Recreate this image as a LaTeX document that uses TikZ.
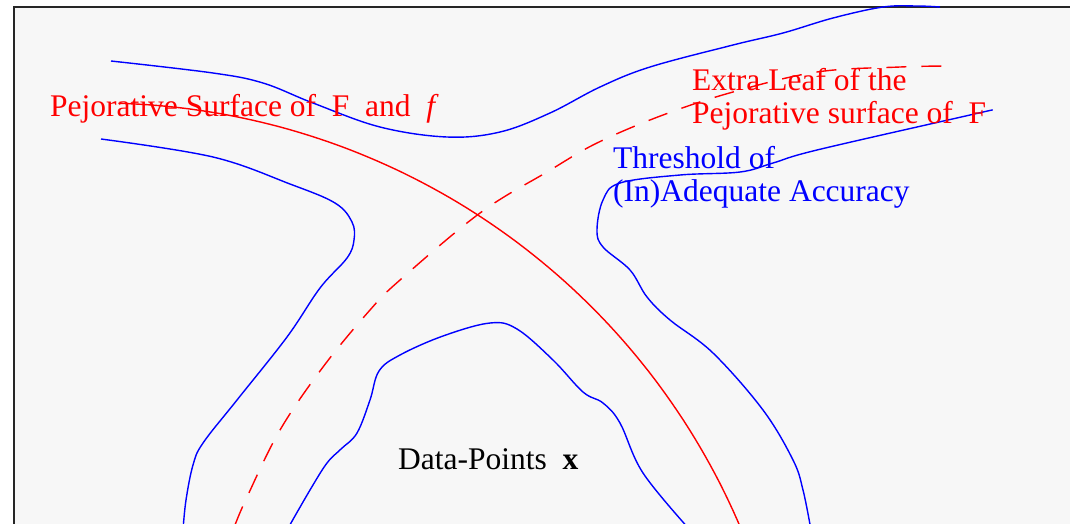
\documentclass[tikz,border=0pt]{standalone}
\usepackage{fontspec}
\setmainfont{Liberation Serif}
\definecolor{bg}{HTML}{F7F7F7}
\begin{document}
\begin{tikzpicture}[x=1pt,y=-1pt,
  bluecurve/.style={draw=blue, line width=1.4pt},
  redcurve/.style={draw=red, line width=1.4pt},
  lab/.style={inner sep=0pt, anchor=base west, font=\fontsize{31.5}{34}\selectfont}]
\useasboundingbox (0,0) rectangle (1070,523);
\begin{scope}
\clip (0,0) rectangle (1070,523);
\fill[white] (0,0) rectangle (1070,523);
\filldraw[fill=bg, draw=black!85, line width=1.4pt] (14,7) rectangle (1090,540);
% blue top curve
\draw[bluecurve] plot[smooth, tension=0.6] coordinates {(111,61) (213,73) (263,83) (313,103) (380,127) (447,137) (500,132) (550,113) (600,87) (650,67) (733,45) (783,33) (833,18) (883,7) (917,6) (940,7)};
% blue left curve
\draw[bluecurve] plot[smooth, tension=0.6] coordinates {(101,139) (213,157) (290,184) (335,203) (352,222) (354,240) (347,258) (320,288) (287,337) (237,400) (203,443) (193,465) (186,500) (183,530)};
% blue inner curve
\draw[bluecurve] plot[smooth, tension=0.6] coordinates {(287,530) (310,490) (327,463) (341,449) (357,433) (370,400) (379,371) (400,355) (443,336) (490,323) (517,329) (553,360) (583,392) (603,403) (620,423) (643,473) (690,530)};
% blue right curve
\draw[bluecurve] plot[smooth, tension=0.6] coordinates {(992,110) (970,115) (817,150) (773,163) (740,172) (680,175) (620,183) (603,200) (597,230) (603,247) (630,270) (647,297) (670,320) (713,353) (763,410) (793,460) (803,490) (811,530)};
% red solid (circular arc)
\draw[redcurve] plot[domain=-88.4:-22, samples=80] ({99+697*cos(\x)},{800+697*sin(\x)});
% red dashed
\draw[redcurve, dash pattern=on 20pt off 15pt] plot[smooth, tension=0.6] coordinates {(235,525) (247,497) (280,430) (323,367) (370,310) (400,280) (480,213) (547,172) (597,143) (663,115) (733,92) (817,72) (900,67) (950,66)};
\end{scope}
\node[lab, text=red] (pej) at (50,116) {Pejorative Surface of~~F~~and~~\textit{f}};
\node[lab, text=red] (extra1) at (692,90) {Extra Leaf of the};
\node[lab, text=red] (extra2) at (692,123) {Pejorative surface of~~F};
\node[lab, text=blue] (thr1) at (613,168) {Threshold of};
\node[lab, text=blue] (thr2) at (613,201) {(In)Adequate Accuracy};
\node[lab, text=black] (data) at (398,469) {Data-Points~~\textbf{x}};
\end{tikzpicture}
\end{document}
